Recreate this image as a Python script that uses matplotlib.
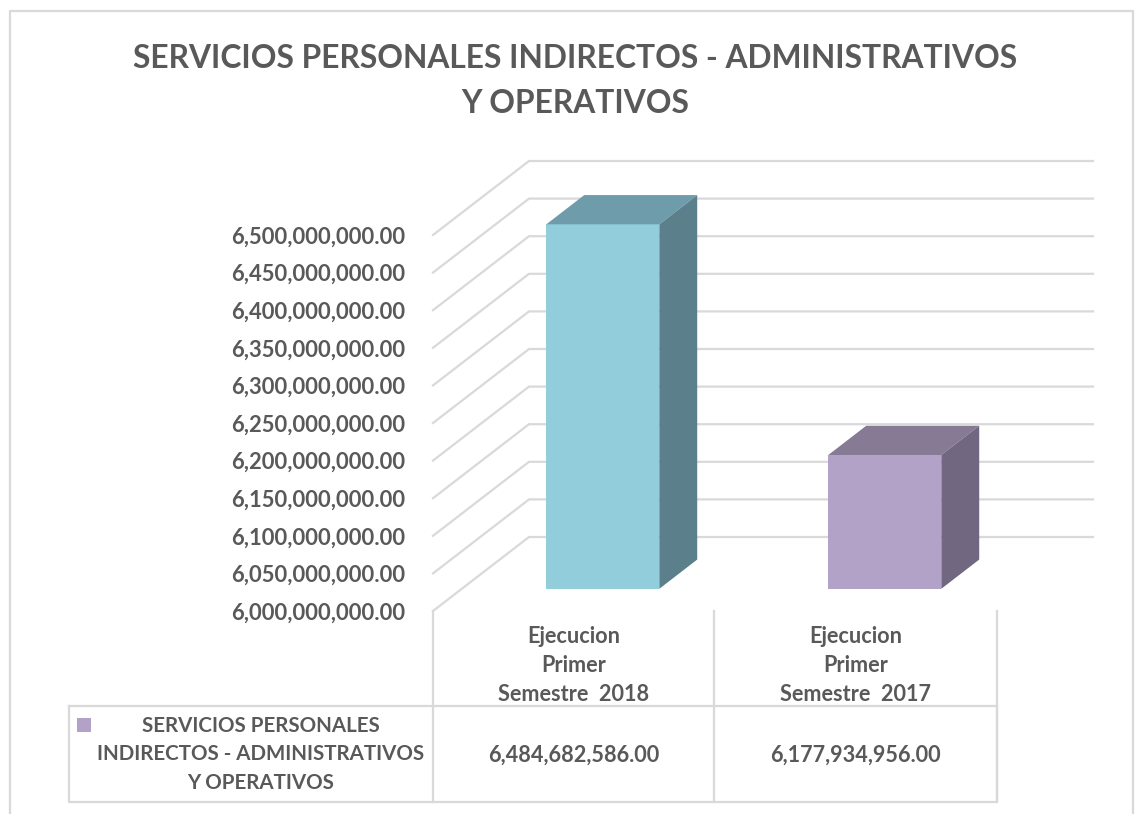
#!/usr/bin/env python3
"""3d-look column chart with data table, servicios personales indirectos."""

import matplotlib

matplotlib.use("Agg")
import matplotlib.pyplot as plt
from matplotlib.lines import Line2D
from matplotlib.patches import Polygon, Rectangle

TITLE = "SERVICIOS PERSONALES INDIRECTOS - ADMINISTRATIVOS\nY OPERATIVOS"
SERIES_NAME = "SERVICIOS PERSONALES\nINDIRECTOS - ADMINISTRATIVOS\nY OPERATIVOS"
categories = ["Ejecucion\nPrimer\nSemestre  2018", "Ejecucion\nPrimer\nSemestre  2017"]
values = [6484682586.00, 6177934956.00]
y_ticks = [6000000000 + 50000000 * i for i in range(11)]

W, H = 1139, 814
TXT = "#595959"
GRID = "#d9d9d9"
FRONT = ["#92cddc", "#b3a2c7"]
TOP = ["#6f9cab", "#867a95"]
SIDE = ["#5b808b", "#716780"]

plt.rcParams["font.family"] = ["Lato", "DejaVu Sans"]
plt.rcParams["font.weight"] = "bold"

fig = plt.figure(figsize=(W / 100, H / 100), dpi=100)


def fx(px):
    return px / W


def fy(py):
    return 1 - py / H


# front plane of the plot box, the walls are sheared back from it
X0, X1, Y0, Y1 = 433, 997, 611, 235
ax = fig.add_axes([fx(X0), fy(Y0), fx(X1) - fx(X0), fy(Y1) - fy(Y0)])
ax.set_xlim(0, len(categories))
ax.set_ylim(y_ticks[0], y_ticks[-1])
ax.patch.set_visible(False)
for s in ax.spines.values():
    s.set_visible(False)

# depth of the box in data units
DX = 96 / ((X1 - X0) / len(categories))
DY = 74 / ((Y0 - Y1) / (y_ticks[-1] - y_ticks[0]))


def proj(x, y, d):
    return x + d * DX, y + d * DY


def corners(pts):
    return [proj(x, y, d) for x, y, d in pts]


for t in y_ticks:
    xs, ys = zip(proj(0, t, 0), proj(0, t, 1), proj(len(categories), t, 1))
    ax.plot(xs, ys, color=GRID, lw=1.6, clip_on=False, zorder=1, solid_joinstyle="miter")

# bars, depth fractions and width
BAR_W = 113 / ((X1 - X0) / len(categories))
D_FRONT, D_BACK = 0.30, 0.695
base = y_ticks[0]
for i, v in enumerate(values):
    x0 = i + 0.5 - BAR_W / 2
    x1 = x0 + BAR_W
    ax.add_patch(Polygon(corners([(x0, base, D_FRONT), (x1, base, D_FRONT), (x1, v, D_FRONT), (x0, v, D_FRONT)]),
                         fc=FRONT[i], ec="none", clip_on=False, zorder=3))
    ax.add_patch(Polygon(corners([(x0, v, D_FRONT), (x1, v, D_FRONT), (x1, v, D_BACK), (x0, v, D_BACK)]),
                         fc=TOP[i], ec="none", clip_on=False, zorder=3))
    ax.add_patch(Polygon(corners([(x1, base, D_FRONT), (x1, base, D_BACK), (x1, v, D_BACK), (x1, v, D_FRONT)]),
                         fc=SIDE[i], ec="none", clip_on=False, zorder=3))

ax.set_yticks(y_ticks, [f"{t:,.2f}" for t in y_ticks])
ax.set_xticks([i + 0.5 for i in range(len(categories))], categories, linespacing=1.45)
ax.tick_params(axis="y", length=0, pad=20, labelsize=15.8, labelcolor=TXT)
ax.tick_params(axis="x", length=0, pad=11, labelsize=15.6, labelcolor=TXT)

# outer chart border, open at the bottom
border = dict(color=GRID, lw=1.6, transform=fig.transFigure)
fig.add_artist(Line2D([fx(10), fx(10), fx(1133), fx(1133)], [0, fy(11), fy(11), 0], **border))

# data table
for px in (433, 714, 997):
    fig.add_artist(Line2D([fx(px), fx(px)], [fy(611), fy(802)], **border))
fig.add_artist(Line2D([fx(69), fx(69), fx(997), fx(997)], [fy(706), fy(802), fy(802), fy(706)], **border))
fig.add_artist(Line2D([fx(69), fx(997)], [fy(706), fy(706)], **border))

fig.add_artist(Rectangle((fx(77), fy(732)), 14 / W, 14 / H, fc=FRONT[1], ec="none", transform=fig.transFigure))
fig.text(fx(261), fy(754.5), SERIES_NAME, ha="center", va="center", fontsize=14.8, color=TXT, linespacing=1.55)
for px, v in zip((574, 855), values):
    fig.text(fx(px), fy(755), f"{v:,.2f}", ha="center", va="center", fontsize=15.6, color=TXT)

fig.text(fx(575), fy(81), TITLE, ha="center", va="center", fontsize=22.9, color=TXT, linespacing=1.65)

fig.savefig("out.png", dpi=100)
plt.close(fig)
